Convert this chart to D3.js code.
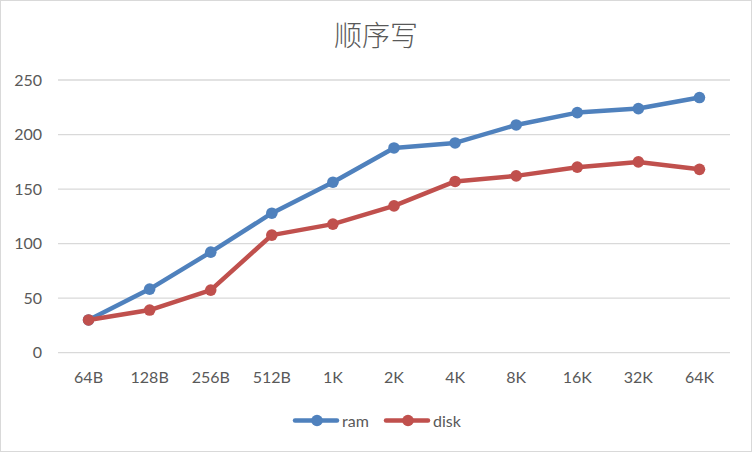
<!DOCTYPE html>
<html>
<head>
<meta charset="utf-8">
<script src="https://cdn.jsdelivr.net/npm/d3@7"></script>
<style>
  body { margin: 0; background: #fff; }
  #chart { width: 752px; height: 452px; }
</style>
</head>
<body>
<div id="chart"></div>
<script>
// chart data
var categories = ["64B", "128B", "256B", "512B", "1K", "2K", "4K", "8K", "16K", "32K", "64K"];
var ramValues = [30, 58.3, 92.2, 127.9, 156.3, 187.7, 192.3, 208.8, 220.1, 223.8, 233.9];
var diskValues = [30, 39.1, 57.4, 107.8, 117.9, 134.6, 157, 162.1, 170.1, 174.9, 168.1];
var yTicks = [0, 50, 100, 150, 200, 250];
var seriesNames = ["ram", "disk"];

var W = 752, H = 452;
var margin = { top: 80, right: 22, bottom: 100, left: 58 },
    width = W - margin.left - margin.right,
    height = 352.7 - margin.top;

var colors = { ram: "#4f81bd", disk: "#c0504d" };
var font = "Lato, 'Open Sans', sans-serif";

var svg = d3.select("#chart")
    .append("svg")
    .attr("width", W)
    .attr("height", H);

// outer border
svg.append("rect")
    .attr("x", 0.5).attr("y", 0.5)
    .attr("width", W - 1).attr("height", H - 1)
    .attr("fill", "#fff")
    .attr("stroke", "#d9d9d9");

// title
svg.append("text")
    .attr("x", W / 2)
    .attr("y", 46)
    .attr("text-anchor", "middle")
    .style("font-family", "'Noto Sans CJK SC', sans-serif")
    .style("font-weight", 300)
    .style("font-size", "28px")
    .style("fill", "#595959")
    .text("顺序写");

var g = svg.append("g")
    .attr("transform", "translate(" + margin.left + "," + margin.top + ")");

var x = d3.scaleBand()
    .domain(categories)
    .range([0, width]);

var y = d3.scaleLinear()
    .domain([0, 250])
    .range([height, 0]);

// gridlines
g.append("g")
    .selectAll("line")
    .data(yTicks)
    .enter()
    .append("line")
    .attr("x1", 0)
    .attr("x2", width)
    .attr("y1", d => y(d))
    .attr("y2", d => y(d))
    .attr("stroke", "#d9d9d9")
    .attr("stroke-width", 1.3);

// Y axis labels
var yAxis = g.append("g")
    .call(d3.axisLeft(y).tickValues(yTicks).tickSize(0).tickPadding(16));
yAxis.select(".domain").remove();
yAxis.selectAll("text")
    .style("font-family", font)
    .style("font-size", "16px")
    .style("fill", "#595959");

// X axis labels
var xAxis = g.append("g")
    .attr("transform", "translate(0," + height + ")")
    .call(d3.axisBottom(x).tickSize(0).tickPadding(19));
xAxis.select(".domain").remove();
xAxis.selectAll("text")
    .style("font-family", font)
    .style("font-size", "16px")
    .style("fill", "#595959");

var line = d3.line()
    .x((d, i) => x(categories[i]) + x.bandwidth() / 2)
    .y(d => y(d));

var series = [
    { name: "ram", values: ramValues },
    { name: "disk", values: diskValues }
];

series.forEach(s => {
    g.append("path")
        .datum(s.values)
        .attr("fill", "none")
        .attr("stroke", colors[s.name])
        .attr("stroke-width", 4.5)
        .attr("stroke-linejoin", "round")
        .attr("stroke-linecap", "round")
        .attr("d", line);

    g.append("g")
        .selectAll("circle")
        .data(s.values)
        .enter()
        .append("circle")
        .attr("cx", (d, i) => x(categories[i]) + x.bandwidth() / 2)
        .attr("cy", d => y(d))
        .attr("r", 5.8)
        .attr("fill", colors[s.name]);
});

// legend
var legendX = [295, 386];
var legend = svg.append("g");
seriesNames.forEach((name, i) => {
    var lx = legendX[i];
    legend.append("line")
        .attr("x1", lx).attr("x2", lx + 42)
        .attr("y1", 420.5).attr("y2", 420.5)
        .attr("stroke", colors[name])
        .attr("stroke-width", 4.5)
        .attr("stroke-linecap", "round");
    legend.append("circle")
        .attr("cx", lx + 22).attr("cy", 420.5)
        .attr("r", 5.8)
        .attr("fill", colors[name]);
    legend.append("text")
        .attr("x", lx + 47)
        .attr("y", 426.5)
        .style("font-family", font)
        .style("font-size", "16px")
        .style("fill", "#595959")
        .text(name);
});
</script>
</body>
</html>
